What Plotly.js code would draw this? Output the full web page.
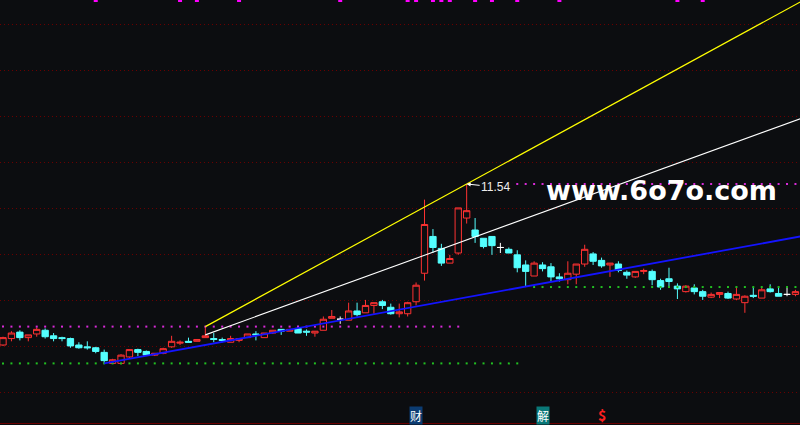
<!DOCTYPE html>
<html><head><meta charset="utf-8">
<script src="https://cdn.plot.ly/plotly-3.0.1.min.js"></script>
<style>html,body{margin:0;padding:0;background:#0c0d10;overflow:hidden}</style>
</head><body><div id="chart" style="width:800px;height:425px"></div>
<script>
// ---- data ----
const openP  = [9.79,9.86,9.93,9.87,9.91,9.95,9.89,9.87,9.86,9.79,9.77,9.76,9.71,9.59,9.59,9.66,9.74,9.72,9.68,9.70,
                9.77,9.81,9.83,9.83,9.87,9.86,9.85,9.82,9.84,9.87,9.91,9.87,9.92,9.96,9.94,9.97,9.94,9.92,9.95,10.08,
                10.07,10.06,10.16,10.14,10.22,10.26,10.20,10.13,10.13,10.26,10.57,10.97,10.84,10.68,10.79,11.17,11.04,10.95,10.97,10.85,
                10.83,10.77,10.66,10.54,10.66,10.64,10.53,10.50,10.56,10.67,10.78,10.71,10.66,10.67,10.58,10.53,10.59,10.59,10.49,10.51,
                10.43,10.37,10.41,10.37,10.31,10.34,10.35,10.29,10.25,10.33,10.30,10.40,10.35,10.34,10.34];
const highP  = [9.88,9.94,9.95,9.90,9.98,9.97,9.92,9.88,9.87,9.82,9.83,9.77,9.74,9.64,9.69,9.74,9.75,9.73,9.70,9.76,
                9.89,9.84,9.87,9.85,9.99,9.92,9.87,9.89,9.86,9.91,9.94,9.92,9.95,9.96,9.96,10.00,9.96,9.94,10.10,10.17,
                10.10,10.25,10.25,10.28,10.25,10.28,10.24,10.24,10.26,10.47,11.37,11.05,10.89,10.77,11.28,11.54,11.17,10.95,10.97,10.90,
                10.85,10.82,10.71,10.70,10.69,10.68,10.57,10.70,10.67,10.88,10.80,10.74,10.68,10.70,10.60,10.59,10.62,10.61,10.51,10.63,
                10.46,10.44,10.45,10.39,10.36,10.36,10.37,10.42,10.33,10.42,10.41,10.45,10.41,10.42,10.39];
const lowP   = [9.78,9.83,9.84,9.83,9.88,9.86,9.83,9.83,9.76,9.75,9.74,9.70,9.59,9.59,9.58,9.65,9.67,9.68,9.67,9.69,
                9.76,9.79,9.82,9.83,9.87,9.82,9.82,9.82,9.82,9.87,9.84,9.87,9.91,9.90,9.94,9.92,9.89,9.88,9.95,10.08,
                10.02,10.06,10.10,10.14,10.13,10.18,10.12,10.09,10.10,10.22,10.49,10.79,10.65,10.68,10.77,11.11,10.90,10.84,10.77,10.79,
                10.79,10.58,10.42,10.54,10.59,10.48,10.48,10.45,10.45,10.64,10.66,10.63,10.53,10.58,10.51,10.52,10.56,10.44,10.39,10.42,
                10.29,10.36,10.34,10.28,10.30,10.30,10.29,10.28,10.14,10.30,10.30,10.36,10.32,10.32,10.32];
const closeP = [9.87,9.92,9.87,9.90,9.96,9.88,9.86,9.86,9.78,9.76,9.76,9.72,9.62,9.63,9.68,9.74,9.71,9.68,9.70,9.75,
                9.83,9.82,9.82,9.85,9.89,9.85,9.84,9.86,9.86,9.91,9.90,9.92,9.95,9.94,9.96,9.92,9.93,9.94,10.07,10.10,
                10.07,10.16,10.12,10.22,10.25,10.22,10.13,10.15,10.25,10.44,11.10,10.85,10.68,10.73,11.28,11.25,10.97,10.86,10.87,10.85,
                10.79,10.63,10.59,10.68,10.62,10.53,10.51,10.57,10.67,10.83,10.70,10.65,10.68,10.60,10.55,10.59,10.60,10.50,10.42,10.48,
                10.40,10.43,10.37,10.32,10.34,10.36,10.30,10.34,10.32,10.32,10.39,10.37,10.32,10.34,10.37];

// dotted level indicators: level price, first and last candle index
const levelValue = [9.99, 11.54, 9.59, 10.42];
const levelFrom  = [0, 61, 0, 63];
const levelTo    = [54, 94, 61, 94];

// trend lines (candle index, price) start/end
const yellowIdx = [24, 94.6], yellowPrice = [9.99, 13.52];
const whiteIdx  = [24, 94.6], whitePrice  = [9.90, 12.25];
const blueIdx   = [12, 94.6], bluePrice   = [9.59, 10.97];

// signal marks cut off at the top edge
const topSignalIdx = [11,21,23,28,40,48,49,51,52,53,56,58,61,66,80,83];

// event icons along the bottom
const eventIdx   = [49, 64, 71];
const eventLabel = ['财', '解', '$'];

// ---- build ----
const BG = '#0c0d10', RED = '#ff3232', CYAN = '#54ffff';
const candleIdx = openP.map((_, i) => i);
function pick(cond) {
  const s = candleIdx.filter(cond);
  return {x: s, open: s.map(i => openP[i]), high: s.map(i => highP[i]),
          low: s.map(i => lowP[i]), close: s.map(i => closeP[i])};
}
function candleTrace(d, lineColor, fill) {
  const st = {line: {color: lineColor, width: 1}, fillcolor: fill};
  return {type: 'candlestick', x: d.x, open: d.open, high: d.high, low: d.low, close: d.close,
          increasing: st, decreasing: st, whiskerwidth: 0, hoverinfo: 'skip', showlegend: false};
}
const yMin = 8.9204, yMax = 13.54;

const traces = [];
const levelColors = ['#d82ad8', '#d82ad8', '#22c022', '#22c022'];
levelValue.forEach((v, k) => {
  const xs = candleIdx.filter(i => i >= levelFrom[k] && i <= levelTo[k]);
  traces.push({type: 'scatter', mode: 'markers', x: xs, y: xs.map(() => v),
    marker: {symbol: 'square', size: 2, color: levelColors[k]}, hoverinfo: 'skip', showlegend: false});
});
traces.push(candleTrace(pick(i => closeP[i] > openP[i]), RED, BG));
traces.push(candleTrace(pick(i => closeP[i] < openP[i]), CYAN, CYAN));
traces.push(candleTrace(pick(i => closeP[i] === openP[i]), '#ffffff', '#ffffff'));
traces.push({type: 'scatter', mode: 'lines', x: yellowIdx, y: yellowPrice,
  line: {color: '#ffff00', width: 1.2}, hoverinfo: 'skip', showlegend: false});
traces.push({type: 'scatter', mode: 'lines', x: whiteIdx, y: whitePrice,
  line: {color: '#ffffff', width: 1.1}, hoverinfo: 'skip', showlegend: false});
traces.push({type: 'scatter', mode: 'lines', x: blueIdx, y: bluePrice,
  line: {color: '#1414ff', width: 1.8}, hoverinfo: 'skip', showlegend: false});
traces.push({type: 'scatter', mode: 'markers', x: topSignalIdx, y: topSignalIdx.map(() => yMax),
  marker: {symbol: 'square', size: 4, color: '#ff00ff'}, hoverinfo: 'skip', showlegend: false});

// peak label
let peak = 0;
highP.forEach((h, i) => { if (h > highP[peak]) peak = i; });

const annotations = [
  {x: peak, y: highP[peak], xref: 'x', yref: 'y', text: highP[peak].toFixed(2),
   showarrow: true, ax: 29, ay: 3, arrowhead: 2, arrowsize: 0.8, arrowwidth: 1, arrowcolor: '#ffffff',
   standoff: 0, font: {family: 'Liberation Sans, Arial', size: 12, color: '#ececec'}},
  {x: 0.827, y: 0.552, xref: 'paper', yref: 'paper', text: 'www.6o7o.com', showarrow: false,
   xanchor: 'center', yanchor: 'middle',
   font: {family: 'DejaVu Sans', size: 27, weight: 'bold', color: '#ffffff'}}
];
const eventBg = ['#0c3c72', '#0a7878', 'rgba(0,0,0,0)'];
const eventFg = ['#ffffff', '#ffffff', '#ff2020'];
eventIdx.forEach((xi, k) => {
  annotations.push({x: xi, y: 0.0224, xref: 'x', yref: 'paper', text: eventLabel[k], showarrow: false,
    xanchor: 'center', yanchor: 'middle', bgcolor: eventBg[k], borderpad: 0,
    font: {family: 'Noto Sans CJK SC', size: k === 2 ? 14 : 12, color: eventFg[k], weight: k === 2 ? 'bold' : 'normal'}});
});

const layout = {
  width: 800, height: 425,
  margin: {l: 0, r: 0, t: 0, b: 0},
  paper_bgcolor: BG, plot_bgcolor: BG,
  showlegend: false,
  boxgap: 0.25, boxgroupgap: 0,
  xaxis: {range: [-0.356, 94.54], showgrid: false, zeroline: false, showticklabels: false,
          ticks: '', showline: false, rangeslider: {visible: false}, fixedrange: true},
  yaxis: {range: [yMin, yMax], showgrid: true, tickmode: 'linear', tick0: 13.2791, dtick: 0.5,
          gridcolor: '#6a0000', gridwidth: 1, griddash: '1px,3px',
          zeroline: false, showticklabels: false, ticks: '', showline: false, fixedrange: true},
  shapes: [{type: 'line', xref: 'paper', yref: 'paper', x0: 0, x1: 1, y0: 0.0035, y1: 0.0035,
            line: {color: '#6a0000', width: 1}}],
  annotations: annotations
};
Plotly.newPlot('chart', traces, layout, {staticPlot: true, displayModeBar: false});
</script></body></html>
